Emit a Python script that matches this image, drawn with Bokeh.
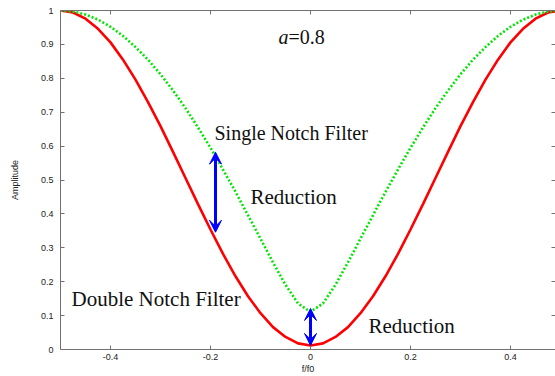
from bokeh.plotting import figure
from bokeh.models import LinearAxis, FixedTicker, Arrow, VeeHead, ColumnDataSource, Range1d
from bokeh.core.properties import value
from bokeh.embed import file_html
from bokeh.resources import INLINE

# ---- data ----
freq = [-0.5, -0.475, -0.45, -0.425, -0.4, -0.375, -0.35, -0.325, -0.3, -0.275,
        -0.25, -0.225, -0.2, -0.175, -0.15, -0.125, -0.1, -0.075, -0.05, -0.025,
        0.0, 0.025, 0.05, 0.075, 0.1, 0.125, 0.15, 0.175, 0.2, 0.225,
        0.25, 0.275, 0.3, 0.325, 0.35, 0.375, 0.4, 0.425, 0.45, 0.475, 0.5]
single_notch = [1.0, 0.997, 0.988, 0.973, 0.952, 0.925, 0.892, 0.855, 0.812, 0.764,
                0.712, 0.655, 0.595, 0.531, 0.465, 0.396, 0.327, 0.257, 0.191, 0.136,
                0.111, 0.136, 0.191, 0.257, 0.327, 0.396, 0.465, 0.531, 0.595, 0.655,
                0.712, 0.764, 0.812, 0.855, 0.892, 0.925, 0.952, 0.973, 0.988, 0.997, 1.0]
double_notch = [1.0, 0.994, 0.976, 0.946, 0.906, 0.855, 0.796, 0.730, 0.659, 0.583,
                0.506, 0.429, 0.354, 0.282, 0.216, 0.157, 0.107, 0.066, 0.037, 0.018,
                0.012, 0.018, 0.037, 0.066, 0.107, 0.157, 0.216, 0.282, 0.354, 0.429,
                0.506, 0.583, 0.659, 0.730, 0.796, 0.855, 0.906, 0.946, 0.976, 0.994, 1.0]

x_ticks = [-0.4, -0.2, 0.0, 0.2, 0.4]
x_tick_labels = ["-0.4", "-0.2", "0", "0.2", "0.4"]
y_ticks = [0.0, 0.1, 0.2, 0.3, 0.4, 0.5, 0.6, 0.7, 0.8, 0.9, 1.0]
y_tick_labels = ["0", "0.1", "0.2", "0.3", "0.4", "0.5", "0.6", "0.7", "0.8", "0.9", "1"]

# reduction arrows (x, from, to)
arrow_x = [-0.19, 0.0]
arrow_top = [0.582, 0.121]
arrow_bottom = [0.346, 0.012]

# annotations
note_x = [-0.192, -0.12, -0.478, 0.116]
note_y = [0.639, 0.451, 0.149, 0.070]
note_text = ["Single Notch Filter", "Reduction", "Double Notch Filter", "Reduction"]
note_size = ["20px", "21px", "21px", "21px"]

FRAME = "#707070"
TICK_FONT = "Liberation Sans"
SERIF = "Liberation Serif"

p = figure(width=555, height=376, output_backend="svg", toolbar_location=None,
           x_range=Range1d(-0.5, 0.49), y_range=Range1d(0, 1),
           x_axis_label="f/f0", y_axis_label="Amplitude")
p.min_border_left = 60
p.min_border_right = 0
p.min_border_top = 10
p.min_border_bottom = 27
p.outline_line_color = None
p.xgrid.visible = False
p.ygrid.visible = False
p.background_fill_color = "white"
p.border_fill_color = "white"

def style_axis(ax, ticks, labels, show_labels=True):
    ax.ticker = FixedTicker(ticks=ticks)
    ax.major_label_overrides = {t: l for t, l in zip(ticks, labels)} if show_labels else {t: "" for t in ticks}
    ax.minor_tick_line_color = None
    ax.major_tick_in = 4
    ax.major_tick_out = 0
    ax.major_tick_line_color = FRAME
    ax.axis_line_color = FRAME
    ax.axis_line_width = 1
    ax.major_label_text_font = TICK_FONT
    ax.major_label_text_font_size = "9px" if show_labels else "0px"
    ax.major_label_text_color = "#222222"
    ax.axis_label_text_font = TICK_FONT
    ax.axis_label_text_font_size = "9px"
    ax.axis_label_text_font_style = "normal"
    ax.axis_label_text_color = "#222222"

style_axis(p.xaxis[0], x_ticks, x_tick_labels)
p.xaxis[0].major_label_standoff = 4
p.xaxis[0].axis_label_standoff = 1
style_axis(p.yaxis[0], y_ticks, y_tick_labels)
p.yaxis[0].major_label_standoff = 7
p.yaxis[0].axis_label_standoff = 18

top_axis = LinearAxis()
style_axis(top_axis, x_ticks, x_tick_labels, show_labels=False)
top_axis.major_label_standoff = 0
p.add_layout(top_axis, "above")

right_axis = LinearAxis()
style_axis(right_axis, y_ticks, y_tick_labels, show_labels=False)
right_axis.major_label_standoff = 0
right_axis.axis_line_color = None
p.add_layout(right_axis, "right")

src = ColumnDataSource(dict(f=freq, single=single_notch, double=double_notch))
p.line("f", "double", source=src, line_color="#ff0000", line_width=2.6)
p.line("f", "single", source=src, line_color="#00e600", line_width=2.6,
       line_dash="2 2", line_cap="butt")

arr_src = ColumnDataSource(dict(x0=arrow_x, y0=arrow_bottom, x1=arrow_x, y1=arrow_top))
p.add_layout(Arrow(source=arr_src, x_start="x0", y_start="y0", x_end="x1", y_end="y1",
                   line_color="#0000ff", line_width=3,
                   start=VeeHead(size=12, fill_color="#0000ff", line_color="#0000ff", line_width=1),
                   end=VeeHead(size=12, fill_color="#0000ff", line_color="#0000ff", line_width=1)))

note_src = ColumnDataSource(dict(x=note_x, y=note_y, text=note_text, size=note_size))
p.text(x="x", y="y", text="text", source=note_src, text_font=value(SERIF),
       text_font_size="size", text_color="#111111",
       text_align="left", text_baseline="alphabetic")

# a=0.8 (italic a)
p.text(x=[-0.064], y=[0.923], text=["a"], text_font=value(SERIF),
       text_font_size="20px", text_font_style="italic", text_color="#111111",
       text_align="left", text_baseline="alphabetic")
p.text(x=[-0.044], y=[0.923], text=["=0.8"], text_font=value(SERIF),
       text_font_size="20px", text_color="#111111",
       text_align="left", text_baseline="alphabetic")

open("out.html", "w").write(file_html(p, INLINE))
